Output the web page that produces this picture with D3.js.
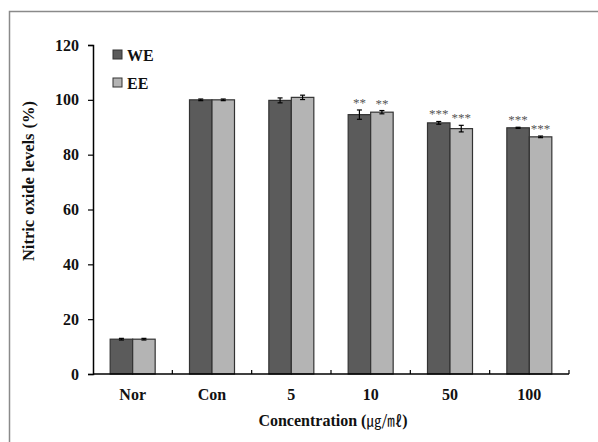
<!DOCTYPE html>
<html>
<head>
<meta charset="utf-8">
<script src="https://cdn.jsdelivr.net/npm/d3@7"></script>
<style>
  body { margin: 0; background: #fff; }
  svg { display: block; }
  text { font-family: "Liberation Serif", "Times New Roman", serif; font-weight: bold; fill: #111; }
</style>
</head>
<body>
<div id="chart"></div>
<script>
var categories = ['Nor', 'Con', '5', '10', '50', '100'];
var seriesNames = ['WE', 'EE'];
var weValues = [12.7, 100, 99.8, 94.6, 91.6, 89.8];
var eeValues = [12.7, 100, 100.9, 95.5, 89.5, 86.5];
var weErrors = [0.3, 0.3, 0.9, 1.7, 0.5, 0.2];
var eeErrors = [0.3, 0.3, 0.8, 0.6, 1.2, 0.3];
var weMarks = ['', '', '', '**', '***', '***'];
var eeMarks = ['', '', '', '**', '***', '***'];
var yTicks = [0, 20, 40, 60, 80, 100, 120];
var colors = ['#5b5b5b', '#b4b4b4'];

var width = 598, height = 442;
var margin = {left: 93, right: 29, top: 45, bottom: 68};

var svg = d3.select('#chart').append('svg')
    .attr('width', width)
    .attr('height', height);

// outer frame (cut off at right and bottom like the picture)
svg.append('path')
    .attr('d', 'M9.5,' + height + 'V11.5H' + width)
    .attr('fill', 'none')
    .attr('stroke', '#8a8a8a')
    .attr('stroke-width', 1.5);

var x = d3.scaleBand()
    .domain(categories)
    .range([margin.left, width - margin.right]);

var y = d3.scaleLinear()
    .domain([0, 120])
    .range([height - margin.bottom, margin.top]);

var barW = 22.5;
var series = [weValues, eeValues];
var errors = [weErrors, eeErrors];
var marks = [weMarks, eeMarks];

var rows = [];
categories.forEach(function(c, i) {
    series.forEach(function(s, k) {
        rows.push({cat: c, k: k, v: s[i], e: errors[k][i], m: marks[k][i]});
    });
});

function barX(d) {
    return x(d.cat) + x.bandwidth() / 2 - barW + d.k * barW;
}

svg.selectAll('rect.bar')
    .data(rows)
    .enter()
    .append('rect')
    .attr('class', 'bar')
    .attr('x', barX)
    .attr('y', function(d) { return y(d.v); })
    .attr('width', barW)
    .attr('height', function(d) { return y(0) - y(d.v); })
    .attr('fill', function(d) { return colors[d.k]; })
    .attr('stroke', '#333')
    .attr('stroke-width', 1.2);

// error bars
var err = svg.selectAll('g.err')
    .data(rows)
    .enter()
    .append('g')
    .attr('class', 'err')
    .attr('stroke', '#000')
    .attr('stroke-width', 1.2);

err.append('line')
    .attr('x1', function(d) { return barX(d) + barW / 2; })
    .attr('x2', function(d) { return barX(d) + barW / 2; })
    .attr('y1', function(d) { return y(d.v + d.e); })
    .attr('y2', function(d) { return y(d.v - d.e); });

[1, -1].forEach(function(sgn) {
    err.append('line')
        .attr('x1', function(d) { return barX(d) + barW / 2 - 2.5; })
        .attr('x2', function(d) { return barX(d) + barW / 2 + 2.5; })
        .attr('y1', function(d) { return y(d.v + sgn * d.e); })
        .attr('y2', function(d) { return y(d.v + sgn * d.e); });
});

// significance stars
svg.selectAll('text.star')
    .data(rows.filter(function(d) { return d.m; }))
    .enter()
    .append('text')
    .attr('class', 'star')
    .attr('x', function(d) { return barX(d) + barW / 2; })
    .attr('y', function(d) { return y(d.v + d.e) - 3; })
    .attr('text-anchor', 'middle')
    .style('font-size', '13px')
    .style('font-weight', 'normal')
    .style('fill', '#555')
    .text(function(d) { return d.m; });

// y axis
var yAxis = svg.append('g')
    .attr('transform', 'translate(' + margin.left + ',0)')
    .call(d3.axisLeft(y).tickValues(yTicks).tickSize(5).tickPadding(9));
yAxis.select('.domain').attr('stroke', '#000').attr('stroke-width', 1.5);
yAxis.selectAll('.tick line').attr('stroke', '#000').attr('stroke-width', 1.2);
yAxis.selectAll('.tick text')
    .style('font-family', '"Liberation Serif", serif')
    .style('font-weight', 'bold')
    .style('font-size', '16px')
    .attr('fill', '#111');

// x axis: ticks between categories, pointing up
var bounds = categories.map(function(c) { return x(c); }).concat([x.range()[1]]);
svg.append('line')
    .attr('x1', margin.left)
    .attr('x2', x.range()[1])
    .attr('y1', y(0))
    .attr('y2', y(0))
    .attr('stroke', '#000')
    .attr('stroke-width', 1.5);
svg.selectAll('line.xtick')
    .data(bounds.slice(1))
    .enter()
    .append('line')
    .attr('class', 'xtick')
    .attr('x1', function(d) { return d; })
    .attr('x2', function(d) { return d; })
    .attr('y1', y(0))
    .attr('y2', y(0) - 4)
    .attr('stroke', '#000')
    .attr('stroke-width', 1.2);

svg.selectAll('text.cat')
    .data(categories)
    .enter()
    .append('text')
    .attr('class', 'cat')
    .attr('x', function(d) { return x(d) + x.bandwidth() / 2; })
    .attr('y', y(0) + 26)
    .attr('text-anchor', 'middle')
    .style('font-size', '16px')
    .text(function(d) { return d; });

// axis titles
svg.append('text')
    .attr('transform', 'translate(34,181) rotate(-90)')
    .attr('text-anchor', 'middle')
    .style('font-size', '16.5px')
    .style('word-spacing', '1px')
    .text('Nitric oxide levels (%)');

var xt = svg.append('text')
    .attr('x', 333)
    .attr('y', 426)
    .attr('text-anchor', 'middle')
    .style('font-size', '16px');
xt.append('tspan').text('Concentration (');
xt.append('tspan')
    .style('font-family', '"Noto Sans CJK KR", sans-serif')
    .style('font-weight', 'normal')
    .style('font-size', '15px')
    .text('㎍/㎖');
xt.append('tspan').text(')');

// legend
var legend = svg.selectAll('g.legend')
    .data(seriesNames)
    .enter()
    .append('g')
    .attr('class', 'legend')
    .attr('transform', function(d, i) { return 'translate(113,' + (50 + i * 28) + ')'; });
legend.append('rect')
    .attr('width', 9)
    .attr('height', 9)
    .attr('fill', function(d, i) { return colors[i]; })
    .attr('stroke', '#333')
    .attr('stroke-width', 1);
legend.append('text')
    .attr('x', 14)
    .attr('y', 10.5)
    .style('font-size', '16px')
    .text(function(d) { return d; });
</script>
</body>
</html>
